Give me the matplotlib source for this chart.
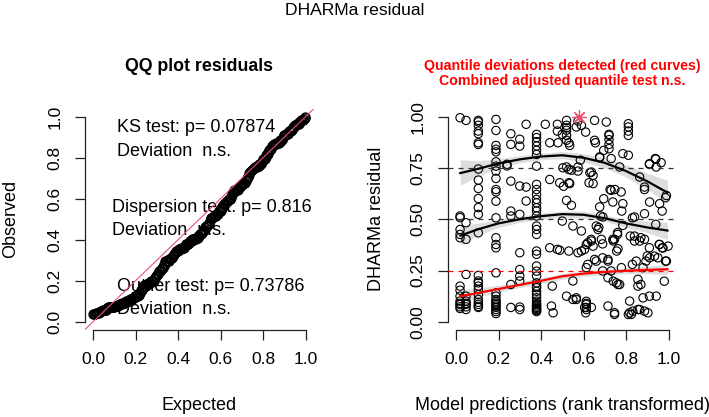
"""
DHARMa residual plot: QQ plot (kiri) + residual vs prediksi (kanan)
"""
import numpy as np
import matplotlib
matplotlib.use('Agg')
import matplotlib.pyplot as plt

plt.rcParams['font.family'] = ['Liberation Sans', 'DejaVu Sans']

# ── Data residual ──────────────────────────────────────────────────
pred = (
    [0.019] * 14 + [0.047] * 10 + [0.105] * 25 + [0.188] * 28 + [0.24] * 2
    + [0.258] * 7 + [0.30] * 10 + [0.33] * 3 + [0.379] * 38
    + [0.42, 0.441, 0.441, 0.441, 0.449, 0.457, 0.453, 0.477, 0.477, 0.477,
       0.48, 0.488, 0.488, 0.50, 0.50, 0.503, 0.506]
    + [0.52] * 9
    + [0.531, 0.531, 0.531, 0.531, 0.535, 0.535, 0.543, 0.543, 0.55, 0.55, 0.55,
       0.566, 0.566, 0.566, 0.574, 0.574, 0.574, 0.574, 0.585, 0.59, 0.59, 0.59,
       0.605, 0.605, 0.61, 0.61, 0.613, 0.613, 0.613, 0.613, 0.613, 0.613, 0.613,
       0.62, 0.62, 0.626, 0.63, 0.636, 0.637, 0.637, 0.637, 0.645, 0.645, 0.645,
       0.652, 0.652, 0.652, 0.656, 0.66, 0.66, 0.668, 0.672, 0.676, 0.676, 0.676,
       0.68, 0.684, 0.69, 0.69, 0.69, 0.691, 0.695, 0.695, 0.707,
       0.715, 0.715, 0.715, 0.715]
    + [0.72] * 5
    + [0.725, 0.73, 0.73, 0.73, 0.738, 0.738, 0.74, 0.74, 0.746, 0.746, 0.746, 0.747,
       0.755, 0.756, 0.76, 0.76, 0.762, 0.762, 0.77, 0.77, 0.777, 0.778, 0.78,
       0.785, 0.785, 0.785]
    + [0.811] * 6
    + [0.817, 0.817, 0.82, 0.825, 0.83, 0.83, 0.832, 0.84, 0.84, 0.84, 0.848,
       0.856, 0.856, 0.856, 0.864, 0.864, 0.864, 0.87, 0.87, 0.88, 0.88,
       0.887, 0.887, 0.887, 0.887, 0.887, 0.894, 0.90, 0.903, 0.91, 0.91, 0.91,
       0.911, 0.911, 0.911, 0.934, 0.938, 0.94, 0.94, 0.942, 0.942, 0.95, 0.956,
       0.958, 0.958, 0.965, 0.97, 0.97, 0.974, 0.98, 0.986, 0.986, 0.99, 0.99, 0.998]
)
resid = (
    [0.995, 0.516, 0.508, 0.45, 0.426, 0.41, 0.174, 0.154, 0.125, 0.101, 0.09,
     0.084, 0.073, 0.065]
    + [0.982, 0.483, 0.402, 0.231, 0.125, 0.101, 0.09, 0.085, 0.073, 0.06]
    + [0.982, 0.975, 0.958, 0.93, 0.917, 0.873, 0.865, 0.745, 0.691, 0.65, 0.601,
       0.557, 0.524, 0.434, 0.226, 0.199, 0.19, 0.174, 0.157, 0.133, 0.109, 0.095,
       0.085, 0.075, 0.07]
    + [0.987, 0.933, 0.86, 0.841, 0.829, 0.78, 0.759, 0.735, 0.699, 0.645, 0.634,
       0.588, 0.507, 0.41, 0.377, 0.361, 0.239, 0.141, 0.125, 0.109, 0.1, 0.092,
       0.085, 0.077, 0.07, 0.06, 0.05, 0.04]
    + [0.768, 0.76]
    + [0.917, 0.865, 0.686, 0.54, 0.516, 0.182, 0.07]
    + [0.89, 0.857, 0.662, 0.524, 0.337, 0.255, 0.223, 0.199, 0.072, 0.06]
    + [0.963, 0.657, 0.589]
    + [0.914, 0.898, 0.878, 0.857, 0.836, 0.816, 0.759, 0.67, 0.645, 0.621, 0.597,
       0.58, 0.556, 0.54, 0.516, 0.467, 0.45, 0.426, 0.345, 0.329, 0.272, 0.247,
       0.223, 0.19, 0.174, 0.166, 0.149, 0.133, 0.117, 0.101, 0.09, 0.084, 0.077,
       0.07, 0.065, 0.06, 0.055, 0.05]
    + [0.963, 0.873, 0.694, 0.361, 0.077, 0.044, 0.174, 0.963, 0.93, 0.353,
       0.873, 0.678, 0.349, 0.914, 0.491, 0.751, 0.661]
    + [0.982, 0.958, 0.946, 0.934, 0.909, 0.885, 0.755, 0.592, 0.125]
    + [0.873, 0.743, 0.678, 0.345, 0.86, 0.674, 0.739, 0.568, 0.467, 0.199, 0.109,
       0.95, 0.109, 0.117, 0.979, 0.735, 0.755, 0.337, 0.788, 0.958, 0.443, 0.345,
       0.353, 0.07, 0.925, 0.044, 0.377, 0.264, 0.1, 0.09, 0.085, 0.07, 0.06,
       0.385, 0.28, 0.678, 0.727, 0.402, 0.394, 0.73, 0.07, 0.369, 0.714, 0.674,
       0.982, 0.885, 0.304, 0.873, 0.467, 0.296, 0.45, 0.46, 0.804, 0.8, 0.56,
       0.516, 0.402, 0.38, 0.248, 0.312, 0.511, 0.836, 0.6, 0.974,
       0.296, 0.215, 0.304, 0.077]
    + [0.914, 0.909, 0.888, 0.865, 0.844]
    + [0.645, 0.796, 0.641, 0.248, 0.584, 0.402, 0.394, 0.198, 0.402, 0.044, 0.036, 0.645,
       0.19, 0.345, 0.435, 0.426, 0.356, 0.182, 0.755, 0.182, 0.633, 0.264, 0.54,
       0.82, 0.576, 0.47]
    + [0.966, 0.95, 0.93, 0.909, 0.812, 0.036]
    + [0.101, 0.044, 0.418, 0.036, 0.507, 0.28, 0.052, 0.394, 0.418, 0.511, 0.296,
       0.06, 0.207, 0.174, 0.706, 0.394, 0.06, 0.41, 0.182, 0.264, 0.117,
       0.657, 0.402, 0.527, 0.052, 0.645, 0.296, 0.321, 0.044, 0.361, 0.768, 0.125,
       0.771, 0.584, 0.312, 0.32, 0.796, 0.475, 0.793, 0.755, 0.125, 0.312, 0.377,
       0.377, 0.576, 0.776, 0.361, 0.54, 0.36, 0.198, 0.296, 0.605, 0.616, 0.296, 0.369]
)

# outlier (bintang merah)
outlier_x = [0.579]
outlier_y = [1.0]

# ── Kurva regresi kuantil + pita kepercayaan ───────────────────────
qx = [0.02, 0.1, 0.2, 0.3, 0.4, 0.5, 0.6, 0.7, 0.8, 0.9, 0.995]
q75 = [0.725, 0.745, 0.772, 0.792, 0.806, 0.812, 0.80, 0.775, 0.735, 0.685, 0.63]
q75_lo = [0.665, 0.71, 0.75, 0.775, 0.79, 0.795, 0.78, 0.75, 0.705, 0.645, 0.58]
q75_hi = [0.79, 0.785, 0.795, 0.81, 0.822, 0.83, 0.82, 0.80, 0.765, 0.725, 0.69]
q50 = [0.42, 0.45, 0.48, 0.50, 0.515, 0.525, 0.522, 0.505, 0.48, 0.46, 0.445]
q50_lo = [0.375, 0.42, 0.46, 0.485, 0.50, 0.51, 0.505, 0.49, 0.46, 0.435, 0.40]
q50_hi = [0.47, 0.48, 0.50, 0.515, 0.53, 0.54, 0.54, 0.52, 0.50, 0.49, 0.485]
q25 = [0.125, 0.14, 0.16, 0.18, 0.20, 0.222, 0.235, 0.243, 0.249, 0.253, 0.256]
q25_lo = [0.10, 0.12, 0.145, 0.167, 0.188, 0.208, 0.222, 0.23, 0.235, 0.235, 0.23]
q25_hi = [0.155, 0.165, 0.178, 0.195, 0.213, 0.235, 0.248, 0.257, 0.263, 0.272, 0.28]

# QQ: residual terurut vs kuantil uniform (ppoints)
all_res = np.sort(np.array(resid + outlier_y))
n = len(all_res)
expected = (np.arange(1, n + 1) - 0.5) / n

# ── Gaya ala R base graphics ───────────────────────────────────────
def r_axes(ax, yticks, ylabels):
    ax.set_xlim(-0.04, 1.04)
    ax.set_ylim(-0.04, 1.04)
    for s in ['top', 'right']:
        ax.spines[s].set_visible(False)
    ax.spines['bottom'].set_bounds(0, 1)
    ax.spines['left'].set_bounds(0, 1)
    for s in ['bottom', 'left']:
        ax.spines[s].set_linewidth(0.9)
        ax.spines[s].set_color('#222222')
    ax.set_xticks([0, 0.2, 0.4, 0.6, 0.8, 1.0])
    ax.set_xticklabels(['0.0', '0.2', '0.4', '0.6', '0.8', '1.0'])
    ax.set_yticks(yticks)
    ax.set_yticklabels(ylabels, rotation=90, va='center')
    ax.tick_params(length=7, width=0.9, color='#222222', labelsize=12.5, pad=9)


fig = plt.figure(figsize=(7.09, 4.17), dpi=100)
fig.text(0.5, 0.976, 'DHARMa residual', ha='center', va='center', fontsize=12.6)

# ══ Panel kiri: QQ plot ════════════════════════════════════════════
ax1 = fig.add_axes([0.1192, 0.2086, 0.3237, 0.5312])
r_axes(ax1, [0, 0.2, 0.4, 0.6, 0.8, 1.0], ['0.0', '0.2', '0.4', '0.6', '0.8', '1.0'])
ax1.plot(expected, all_res, 'o', mfc='none', mec='black', ms=6.5, mew=0.9, zorder=2)
ax1.axline((0, 0), slope=1, color='#E8506E', lw=0.8, zorder=3)
ax1.set_title('QQ plot residuals', fontsize=12.8, fontweight='bold', y=1.13)

txt = dict(fontsize=13, va='center', ha='left', zorder=1)
ax1.text(0.111, 0.945, 'KS test: p= 0.07874', **txt)
ax1.text(0.111, 0.828, 'Deviation  n.s.', **txt)
ax1.text(0.088, 0.555, 'Dispersion test: p= 0.816', **txt)
ax1.text(0.088, 0.447, 'Deviation  n.s.', **txt)
ax1.text(0.111, 0.171, 'Outlier test: p= 0.73786', **txt)
ax1.text(0.111, 0.062, 'Deviation  n.s.', **txt)

ax1.set_xlabel('Expected', fontsize=13, va='center')
ax1.xaxis.set_label_coords(0.5, -0.339)
ax1.set_ylabel('Observed', fontsize=13, va='center')
ax1.yaxis.set_label_coords(-0.32, 0.5)

# ══ Panel kanan: residual vs prediksi ══════════════════════════════
ax2 = fig.add_axes([0.6312, 0.2086, 0.3237, 0.5312])
r_axes(ax2, [0, 0.25, 0.5, 0.75, 1.0], ['0.00', '0.25', '0.50', '0.75', '1.00'])
ax2.scatter(pred, resid, s=36, facecolors='none', edgecolors='black', linewidths=0.8, zorder=2)
ax2.scatter(outlier_x, outlier_y, s=90, marker=(8, 2, 0), color='#E8506E', linewidths=0.9, zorder=5)

for lo, hi in [(q25_lo, q25_hi), (q50_lo, q50_hi), (q75_lo, q75_hi)]:
    ax2.fill_between(qx, lo, hi, color='black', alpha=0.13, lw=0, zorder=3)
ax2.plot(qx, q75, color='black', lw=1.6, zorder=4)
ax2.plot(qx, q50, color='black', lw=1.6, zorder=4)
ax2.plot(qx, q25, color='red', lw=1.6, zorder=4)

ax2.axhline(0.75, color='#333333', lw=0.9, ls=(0, (4, 4)), zorder=3)
ax2.axhline(0.50, color='#333333', lw=0.9, ls=(0, (4, 4)), zorder=3)
ax2.axhline(0.25, color='red', lw=0.9, ls=(0, (4, 4)), zorder=3)

ax2.set_title('Quantile deviations detected (red curves)\nCombined adjusted quantile test n.s.',
              fontsize=10.2, fontweight='bold', color='red', y=1.067, linespacing=1.1)
ax2.set_xlabel('Model predictions (rank transformed)', fontsize=13, va='center')
ax2.xaxis.set_label_coords(0.5, -0.339)
ax2.set_ylabel('DHARMa residual', fontsize=13, va='center')
ax2.yaxis.set_label_coords(-0.31, 0.5)

plt.savefig('out.png', dpi=100)
plt.close()
print('[OK] out.png')
